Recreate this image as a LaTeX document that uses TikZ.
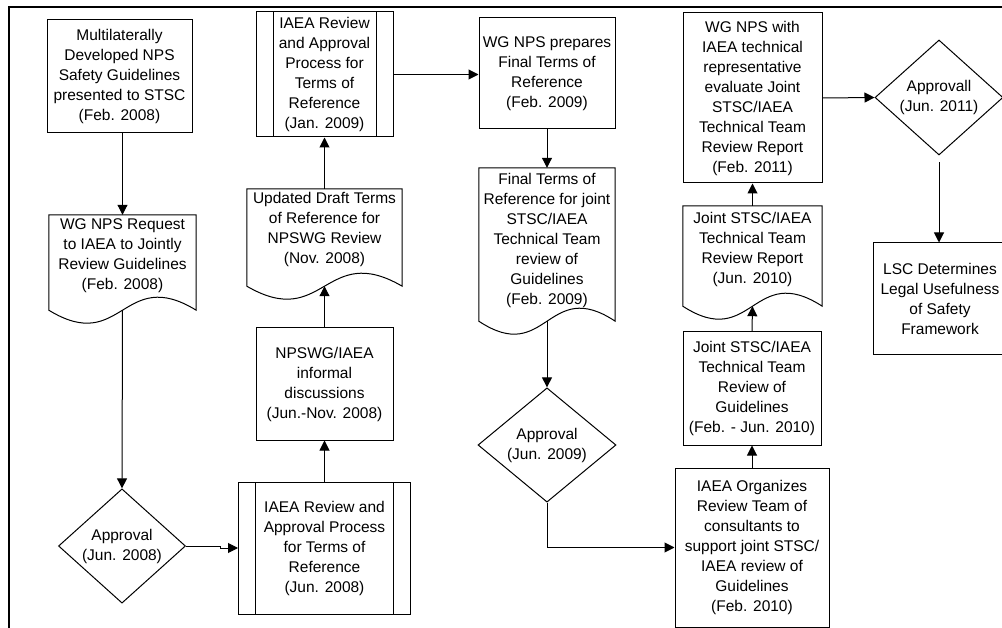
\documentclass[tikz,border=0pt]{standalone}
\usepackage{fontspec}
\setmainfont{Liberation Sans}
\usetikzlibrary{shapes.geometric,arrows.meta}
\newcommand\mainfs{\fontsize{15.5pt}{20pt}\selectfont}
\tikzset{
  box/.style={draw, rectangle, line width=1pt, inner sep=0pt, align=center},
  procbox/.style={box, path picture={
      \draw[line width=1pt] ([xshift=17pt]path picture bounding box.north west) -- ([xshift=17pt]path picture bounding box.south west);
      \draw[line width=1pt] ([xshift=-17pt]path picture bounding box.north east) -- ([xshift=-17pt]path picture bounding box.south east);}},
  docbox/.style={rectangle, inner sep=0pt, align=center},
  docline/.style={line width=1pt},
  decision/.style={diamond, draw, line width=1pt, inner sep=0pt, align=center},
  arr/.style={-{Triangle[length=10pt,width=10pt]}, line width=1pt},
  framestyle/.style={line width=2pt}
}
\begin{document}
\begin{tikzpicture}[x=1pt,y=-1pt, every node/.style={font=\mainfs}]
\useasboundingbox (0,0) rectangle (1002,628);
\clip (0,0) rectangle (1002,628);
\draw[framestyle] (9,640) -- (9,7) -- (1010,7);

% column 1
\node[box, minimum width=145pt, minimum height=113pt] (n1) at (119.5,76.5)
  {Multilaterally\\Developed NPS\\Safety Guidelines\\presented to STSC\\(Feb. 2008)};
\node[docbox, minimum width=147pt, minimum height=82pt] (d1) at (122.5,256)
  {WG NPS Request\\to IAEA to Jointly\\Review Guidelines\\(Feb. 2008)};
\draw[docline] (d1.north west) -- ([yshift=-13pt]d1.south west)
  .. controls +(73.5,45) and +(-73.5,-45) .. ([yshift=-13pt]d1.south east)
  -- (d1.north east) -- cycle;
\node[decision, minimum width=127pt, minimum height=103pt] (dm1) at (122,546)
  {Approval\\(Jun. 2008)};

% column 2
\node[procbox, minimum width=172pt, minimum height=132pt] (p1) at (324.5,548)
  {IAEA Review and\\Approval Process\\for Terms of\\Reference\\(Jun. 2008)};
\node[box, minimum width=137pt, minimum height=112pt] (n2) at (324.5,384)
  {NPSWG/IAEA\\informal\\discussions\\(Jun.-Nov. 2008)};
\node[docbox, minimum width=155pt, minimum height=81pt] (d2) at (324.5,229.5)
  {Updated Draft Terms\\of Reference for\\NPSWG Review\\(Nov. 2008)};
\draw[docline] (d2.north west) -- ([yshift=-16pt]d2.south west)
  .. controls +(77.5,45) and +(-77.5,-45) .. ([yshift=-16pt]d2.south east)
  -- (d2.north east) -- cycle;
\node[procbox, minimum width=137pt, minimum height=125pt] (p2) at (324.5,74.5)
  {IAEA Review\\and Approval\\Process for\\Terms of\\Reference\\(Jan. 2009)};

% column 3
\node[box, minimum width=136pt, minimum height=111pt] (n3) at (547,73.5)
  {WG NPS prepares\\Final Terms of\\Reference\\(Feb. 2009)};
\node[docbox, minimum width=136pt, minimum height=144pt] (d3) at (547,240)
  {Final Terms of\\Reference for joint\\STSC/IAEA\\Technical Team\\review of\\Guidelines\\(Feb. 2009)};
\draw[docline] (d3.north west) -- ([yshift=-9pt]d3.south west)
  .. controls +(68,45) and +(-68,-45) .. ([yshift=-9pt]d3.south east)
  -- (d3.north east) -- cycle;
\node[decision, minimum width=138pt, minimum height=114pt] (dm2) at (547,445)
  {Approval\\(Jun. 2009)};

% column 4
\node[box, minimum width=154pt, minimum height=159pt] (n4) at (752,547.5)
  {IAEA Organizes\\Review Team of\\consultants to\\support joint STSC/\\IAEA review of\\Guidelines\\(Feb. 2010)};
\node[box, minimum width=138pt, minimum height=113pt] (n5) at (752,388.5)
  {Joint STSC/IAEA\\Technical Team\\Review of\\Guidelines\\(Feb. - Jun. 2010)};
\node[docbox, minimum width=139pt, minimum height=86pt] (d4) at (752.5,249)
  {Joint STSC/IAEA\\Technical Team\\Review Report\\(Jun. 2010)};
\draw[docline] (d4.north west) -- ([yshift=-14pt]d4.south west)
  .. controls +(69.5,45) and +(-69.5,-45) .. ([yshift=-14pt]d4.south east)
  -- (d4.north east) -- cycle;
\node[box, minimum width=139pt, minimum height=170pt] (n6) at (752.5,98)
  {WG NPS with\\IAEA technical\\representative\\evaluate Joint\\STSC/IAEA\\Technical Team\\Review Report\\(Feb. 2011)};

% column 5
\node[decision, minimum width=128pt, minimum height=115pt] (dm3) at (939,97.5)
  {Approvall\\(Jun. 2011)};
\node[box, minimum width=134pt, minimum height=112pt] (n7) at (940,299)
  {LSC Determines\\Legal Usefulness\\of Safety\\Framework};

% connectors
\draw[arr] (d1.north |- n1.south) -- (d1.north);
\draw[arr] ([yshift=-13pt]d1.south) -- (dm1.north);
\draw[arr] (dm1.east) -- ([xshift=34pt]dm1.east) -- ([xshift=34pt]dm1.east |- p1.west) -- (p1.west);
\draw[arr] (p1.north) -- (n2.south);
\draw[arr] (n2.north) -- ([yshift=-16pt]d2.south);
\draw[arr] (d2.north) -- (p2.south);
\draw[arr] (p2.east) -- (p2.east -| n3.west);
\draw[arr] (n3.south) -- (d3.north);
\draw[arr] ([yshift=-9pt]d3.south) -- (dm2.north);
\draw[arr] (dm2.south) |- (n4.west);
\draw[arr] (n4.north) -- (n5.south);
\draw[arr] (n5.north) -- ([yshift=-14pt]d4.south);
\draw[arr] (d4.north) -- (d4.north |- n6.south);
\draw[arr] (n6.east) -- (dm3.west);
\draw[arr, shorten <=7pt] (dm3.south) -- (dm3.south |- n7.north);
\end{tikzpicture}
\end{document}
